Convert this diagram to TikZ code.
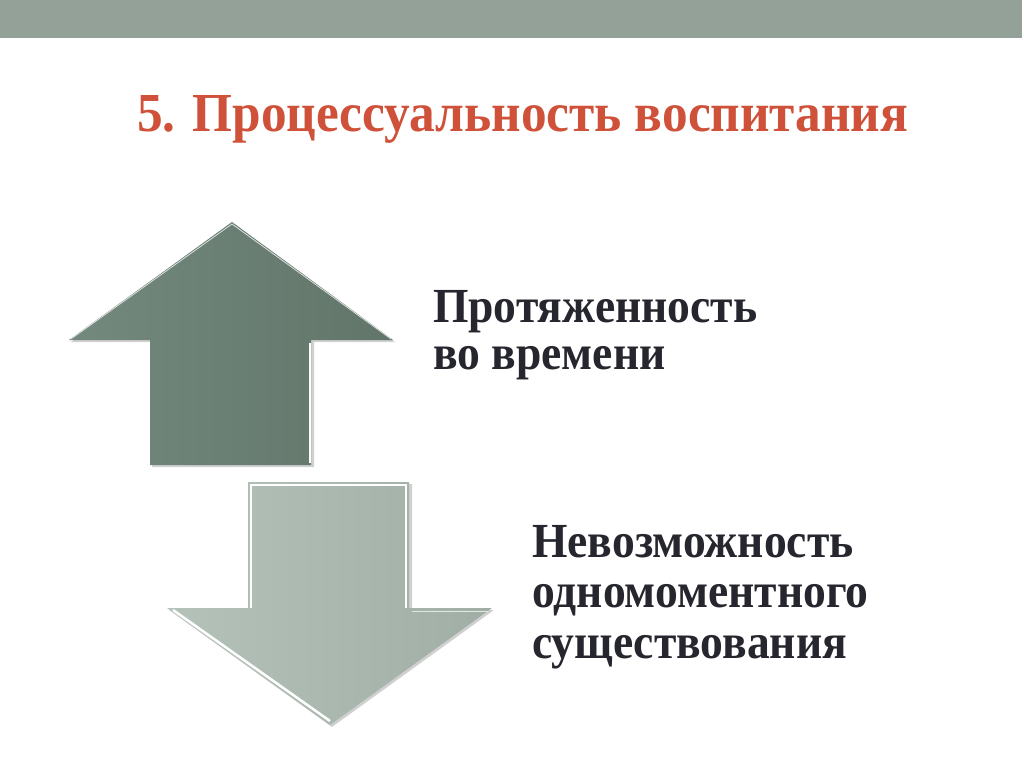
\documentclass[tikz,border=0pt]{standalone}
\usepackage{fontspec}
\setmainfont{Liberation Serif}
\newfontfamily\titlefont[FakeStretch=0.933]{Liberation Serif}
\newfontfamily\labelfont[FakeStretch=0.93]{Liberation Serif}
\definecolor{barcol}{HTML}{93A198}
\definecolor{titlecol}{HTML}{CF5139}
\definecolor{textcol}{HTML}{26262E}
\definecolor{upleft}{HTML}{74897E}
\definecolor{upright}{HTML}{617569}
\definecolor{downleft}{HTML}{B5C2BA}
\definecolor{downright}{HTML}{A0AEA6}
\tikzset{
  title/.style={text=titlecol, font=\titlefont\bfseries\fontsize{55}{55}\selectfont, inner sep=0pt, anchor=base west},
  label/.style={text=textcol, font=\labelfont\bfseries\fontsize{49}{47}\selectfont, inner sep=0pt, anchor=base west, align=left},
}
\begin{document}
\begin{tikzpicture}[x=1pt, y=-1pt]
  \useasboundingbox (0,0) rectangle (1024,767);
  \fill[white] (0,0) rectangle (1024,767);
  % top band
  \fill[barcol] (0,0) rectangle (1022,38);

  \node (heading) [title] at (137,132) {5. Процессуальность воспитания};

  % up arrow
  \fill[gray!60, opacity=0.6] (152,467) -- (314,467) -- (314,342) -- (395,342) -- (232,224) -- (71,342) -- (152,342) -- cycle;
  \shade[left color=upleft, right color=upright] (150,465) -- (311,465) -- (311,340) -- (393,340) -- (232,222) -- (69,340) -- (150,340) -- cycle;
  \draw[white, line width=1.2pt] (310,343) -- (310,463);
  \draw[white!75!upleft, line width=0.8pt] (71,339) -- (232,224) -- (391,339);

  % down arrow
  \fill[gray!60, opacity=0.6] (250,484) -- (412,484) -- (412,610) -- (494,610) -- (332,727) -- (169,610) -- (250,610) -- cycle;
  \shade[left color=downleft, right color=downright] (248,482) -- (409,482) -- (409,608) -- (492,608) -- (330,725) -- (167,608) -- (248,608) -- cycle;
  \draw[white, line width=1.5pt] (251,608) -- (251,485) -- (406,485) -- (406,608);
  \draw[white, line width=2.5pt] (173,610) -- (330,721);
  \draw[white!60!downleft, line width=1pt] (412,611) -- (488,611);

  \node (span) [label] at (433,369) {Протяженность\\во времени};
  \node (instant) [label, font=\labelfont\bfseries\fontsize{49}{50.5}\selectfont] at (532,658) {Невозможность\\одномоментного\\существования};
\end{tikzpicture}
\end{document}
